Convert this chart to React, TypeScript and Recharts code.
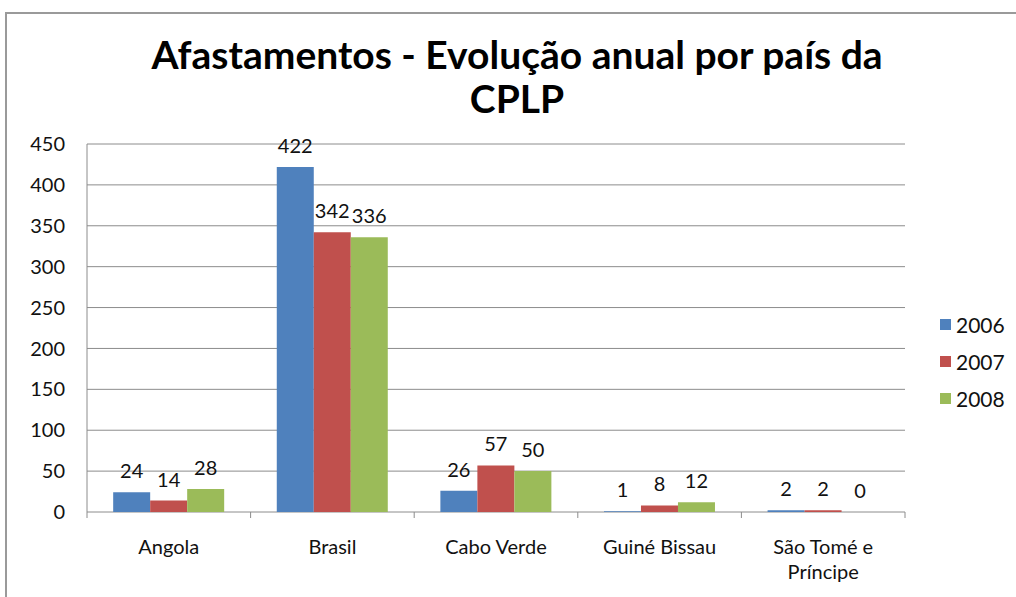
import { Bar, BarChart, CartesianGrid, LabelList, XAxis, YAxis } from "recharts";

// Afastamentos por país da CPLP, 2006-2008
const COUNTRIES = ["Angola", "Brasil", "Cabo Verde", "Guiné Bissau", "São Tomé e Príncipe"];
const Y2006 = [24, 422, 26, 1, 2];
const Y2007 = [14, 342, 57, 8, 2];
const Y2008 = [28, 336, 50, 12, 0];
const YEARS = ["2006", "2007", "2008"];
const Y_TICKS = [0, 50, 100, 150, 200, 250, 300, 350, 400, 450];

const COLORS = ["#4F81BD", "#C0504D", "#9BBB59"];
const FONT = "Lato, 'Open Sans', sans-serif";

const data = COUNTRIES.map((country, i) => ({
  country,
  y2006: Y2006[i],
  y2007: Y2007[i],
  y2008: Y2008[i],
}));

const W = 1016;
const H = 597;
const MARGIN = { top: 144, right: 111, bottom: 0, left: 0 };
const Y_AXIS_W = 87;
const BAND = (W - MARGIN.right - Y_AXIS_W) / COUNTRIES.length;

// word-wrap a category label the way Excel does for narrow slots
function wrap(label: string, max = 12) {
  const lines: string[] = [];
  let cur = "";
  for (const w of label.split(" ")) {
    const next = cur ? `${cur} ${w}` : w;
    if (next.length > max && cur) {
      lines.push(cur);
      cur = w;
    } else cur = next;
  }
  if (cur) lines.push(cur);
  return lines;
}

function CountryTick(props: any) {
  const { x, y, payload, index } = props;
  const top = y - 8;
  const lines = wrap(String(payload.value));
  return (
    <g>
      {index === 0 && (
        <line x1={x - BAND / 2} x2={x - BAND / 2} y1={top} y2={top + 6} stroke="#8c8c8c" />
      )}
      <line x1={x + BAND / 2} x2={x + BAND / 2} y1={top} y2={top + 6} stroke="#8c8c8c" />
      <text textAnchor="middle" fontFamily={FONT} fontSize={20} fill="#111">
        {lines.map((l, i) => (
          <tspan key={l} x={x} y={top + 42 + i * 25}>
            {l}
          </tspan>
        ))}
      </text>
    </g>
  );
}

// data label drawn above each bar, zero values included
function ValueLabel(props: any) {
  const { x, y, width, value } = props;
  if (value === undefined || value === null) return null;
  return (
    <text
      x={Number(x) + Number(width) / 2}
      y={Number(y) - 14}
      textAnchor="middle"
      fontFamily={FONT}
      fontSize={20}
      fill="#111"
    >
      {String(value)}
    </text>
  );
}

export default function App() {
  const keys = ["y2006", "y2007", "y2008"];
  return (
    <div
      style={{
        position: "absolute",
        left: 0,
        top: 0,
        width: W,
        height: H,
        background: "#fff",
        overflow: "hidden",
        fontFamily: FONT,
      }}
    >
      <div
        style={{
          position: "absolute",
          left: 5,
          top: 12,
          width: W,
          height: H,
          borderLeft: "2px solid #9a9a9a",
          borderTop: "2px solid #9a9a9a",
        }}
      />
      <div
        style={{
          position: "absolute",
          left: 0,
          top: 32,
          width: 1034,
          textAlign: "center",
          fontSize: 39,
          fontWeight: 700,
          lineHeight: "44px",
          color: "#000",
        }}
      >
        Afastamentos - Evolução anual por país da
        <br />
        CPLP
      </div>
      <div style={{ position: "absolute", left: 0, top: 0 }}>
        <BarChart
          width={W}
          height={H}
          data={data}
          margin={MARGIN}
          barCategoryGap="16%"
          barGap={0}
        >
          <CartesianGrid vertical={false} stroke="#8c8c8c" />
          <XAxis
            dataKey="country"
            axisLine={false}
            tickLine={false}
            height={85}
            interval={0}
            tick={<CountryTick />}
          />
          <YAxis
            domain={[0, 450]}
            ticks={Y_TICKS}
            width={Y_AXIS_W}
            axisLine={{ stroke: "#8c8c8c" }}
            tickLine={false}
            tick={{ fill: "#111", fontSize: 20, fontFamily: FONT }}
            tickMargin={16}
          />
          {keys.map((k, i) => (
            <Bar
              key={k}
              dataKey={k}
              fill={COLORS[i]}
              minPointSize={0.01}
              isAnimationActive={false}
            >
              <LabelList dataKey={k} content={<ValueLabel />} />
            </Bar>
          ))}
        </BarChart>
      </div>
      <div style={{ position: "absolute", left: 940, top: 306 }}>
        {YEARS.map((y, i) => (
          <div
            key={y}
            style={{ display: "flex", alignItems: "center", height: 37, fontSize: 21, color: "#111" }}
          >
            <span
              style={{ width: 11, height: 11, background: COLORS[i], marginRight: 5, display: "inline-block" }}
            />
            {y}
          </div>
        ))}
      </div>
    </div>
  );
}
